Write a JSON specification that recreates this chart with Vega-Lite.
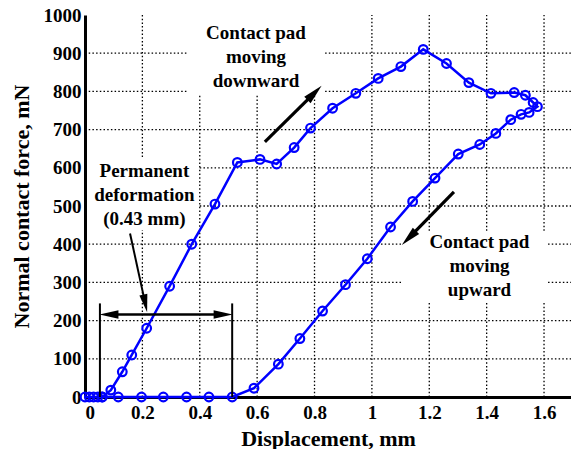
{
  "$schema": "https://vega.github.io/schema/vega-lite/v6.json",
  "width": 486,
  "height": 382,
  "autosize": {"type": "none"},
  "padding": {"left": 85, "top": 15, "right": 0, "bottom": 52},
  "background": "white",
  "config": {
    "view": {"stroke": null},
    "font": "Liberation Serif",
    "text": {"font": "Liberation Serif"}
  },
  "datasets": {
    "curve": [
      {"i": 1, "d": 0, "f": 0}, {"i": 2, "d": 0.015, "f": 0}, {"i": 3, "d": 0.03, "f": 0}, {"i": 4, "d": 0.045, "f": 0}, {"i": 5, "d": 0.06, "f": 0},
      {"i": 6, "d": 0.09, "f": 18}, {"i": 7, "d": 0.13, "f": 66}, {"i": 8, "d": 0.163, "f": 110}, {"i": 9, "d": 0.215, "f": 180},
      {"i": 10, "d": 0.295, "f": 290}, {"i": 11, "d": 0.372, "f": 400}, {"i": 12, "d": 0.453, "f": 505}, {"i": 13, "d": 0.531, "f": 614},
      {"i": 14, "d": 0.61, "f": 622}, {"i": 15, "d": 0.668, "f": 610}, {"i": 16, "d": 0.729, "f": 653}, {"i": 17, "d": 0.786, "f": 704},
      {"i": 18, "d": 0.863, "f": 756}, {"i": 19, "d": 0.944, "f": 795}, {"i": 20, "d": 1.022, "f": 834}, {"i": 21, "d": 1.101, "f": 865},
      {"i": 22, "d": 1.179, "f": 910}, {"i": 23, "d": 1.26, "f": 873}, {"i": 24, "d": 1.338, "f": 823}, {"i": 25, "d": 1.415, "f": 795},
      {"i": 26, "d": 1.496, "f": 797}, {"i": 27, "d": 1.535, "f": 790}, {"i": 28, "d": 1.562, "f": 771}, {"i": 29, "d": 1.577, "f": 760},
      {"i": 30, "d": 1.548, "f": 745}, {"i": 31, "d": 1.52, "f": 740}, {"i": 32, "d": 1.484, "f": 726}, {"i": 33, "d": 1.432, "f": 690},
      {"i": 34, "d": 1.376, "f": 661}, {"i": 35, "d": 1.301, "f": 636}, {"i": 36, "d": 1.22, "f": 573}, {"i": 37, "d": 1.142, "f": 512},
      {"i": 38, "d": 1.065, "f": 445}, {"i": 39, "d": 0.984, "f": 362}, {"i": 40, "d": 0.908, "f": 294}, {"i": 41, "d": 0.828, "f": 225},
      {"i": 42, "d": 0.749, "f": 153}, {"i": 43, "d": 0.674, "f": 86}, {"i": 44, "d": 0.589, "f": 23}, {"i": 45, "d": 0.513, "f": 0},
      {"i": 46, "d": 0.432, "f": 0}, {"i": 47, "d": 0.354, "f": 0}, {"i": 48, "d": 0.273, "f": 0}, {"i": 49, "d": 0.197, "f": 0},
      {"i": 50, "d": 0.116, "f": 0}, {"i": 51, "d": 0.06, "f": 0}
    ],
    "grid": [
      {"d": 0.2, "f": 0, "d2": 0.2, "f2": 437}, {"d": 0.2, "f": 628, "d2": 0.2, "f2": 1000},
      {"d": 0.4, "f": 0, "d2": 0.4, "f2": 790},
      {"d": 0.6, "f": 0, "d2": 0.6, "f2": 790},
      {"d": 0.8, "f": 0, "d2": 0.8, "f2": 790},
      {"d": 1.0, "f": 0, "d2": 1.0, "f2": 1000},
      {"d": 1.2, "f": 0, "d2": 1.2, "f2": 249}, {"d": 1.2, "f": 435, "d2": 1.2, "f2": 1000},
      {"d": 1.4, "f": 0, "d2": 1.4, "f2": 249}, {"d": 1.4, "f": 435, "d2": 1.4, "f2": 1000},
      {"d": 1.6, "f": 0, "d2": 1.6, "f2": 249}, {"d": 1.6, "f": 435, "d2": 1.6, "f2": 1000},
      {"d": 0, "f": 100, "d2": 1.694, "f2": 100},
      {"d": 0, "f": 200, "d2": 1.694, "f2": 200},
      {"d": 0, "f": 300, "d2": 1.108, "f2": 300}, {"d": 1.614, "f": 300, "d2": 1.694, "f2": 300},
      {"d": 0, "f": 400, "d2": 1.108, "f2": 400}, {"d": 1.614, "f": 400, "d2": 1.694, "f2": 400},
      {"d": 0.40, "f": 500, "d2": 1.694, "f2": 500},
      {"d": 0.40, "f": 600, "d2": 1.694, "f2": 600},
      {"d": 0, "f": 700, "d2": 1.694, "f2": 700},
      {"d": 0, "f": 800, "d2": 0.356, "f2": 800}, {"d": 0.837, "f": 800, "d2": 1.694, "f2": 800},
      {"d": 0, "f": 900, "d2": 0.356, "f2": 900}, {"d": 0.837, "f": 900, "d2": 1.694, "f2": 900}
    ],
    "rules": [
      {"d": 0.627, "f": 668, "d2": 0.80, "f2": 796, "kind": "big"},
      {"d": 1.286, "f": 537, "d2": 1.129, "f2": 416.5, "kind": "big"},
      {"d": 0.052, "f": 0, "d2": 0.052, "f2": 245, "kind": "thin"},
      {"d": 0.513, "f": 0, "d2": 0.513, "f2": 245, "kind": "thin"},
      {"d": 0.083, "f": 216, "d2": 0.482, "f2": 216, "kind": "mid"},
      {"d": 0.157, "f": 428, "d2": 0.21, "f2": 245, "kind": "thin"}
    ],
    "heads": [
      {"d": 0.80, "f": 796, "a": 45, "kind": "big"},
      {"d": 1.129, "f": 416.5, "a": 225, "kind": "big"},
      {"d": 0.0834, "f": 216, "a": 270, "kind": "mid"},
      {"d": 0.4816, "f": 216, "a": 90, "kind": "mid"},
      {"d": 0.21, "f": 245, "a": 168, "kind": "thin"}
    ],
    "labels": [
      {"d": 0.596, "f": 937, "t": "Contact pad\nmoving\ndownward"},
      {"d": 0.207, "f": 576, "t": "Permanent\ndeformation\n(0.43 mm)"},
      {"d": 1.375, "f": 390, "t": "Contact pad\nmoving\nupward"}
    ]
  },
  "encoding": {
    "x": {"field": "d", "type": "quantitative", "scale": {"domain": [0, 1.694], "nice": false, "zero": false},
      "axis": {"orient": "bottom", "values": [0, 0.2, 0.4, 0.6, 0.8, 1, 1.2, 1.4, 1.6], "format": ".1~f",
        "title": "Displacement, mm", "grid": false,
        "domainColor": "black", "domainWidth": 3, "ticks": false, "labelPadding": 6,
        "labelFont": "Liberation Serif", "labelFontWeight": "bold", "labelFontSize": 19, "labelColor": "black",
        "titleFont": "Liberation Serif", "titleFontWeight": "bold", "titleFontSize": 22, "titleColor": "black", "titlePadding": 6}},
    "y": {"field": "f", "type": "quantitative", "scale": {"domain": [0, 1000], "nice": false},
      "axis": {"orient": "left", "values": [0, 100, 200, 300, 400, 500, 600, 700, 800, 900, 1000], "format": "d",
        "title": "Normal contact force, mN", "grid": false,
        "domainColor": "black", "domainWidth": 3, "ticks": false, "labelPadding": 4,
        "labelFont": "Liberation Serif", "labelFontWeight": "bold", "labelFontSize": 19, "labelColor": "black",
        "titleFont": "Liberation Serif", "titleFontWeight": "bold", "titleFontSize": 22, "titleColor": "black", "titlePadding": 10}}
  },
  "layer": [
    {
      "data": {"name": "grid"},
      "mark": {"type": "rule", "color": "black", "strokeWidth": 1.3, "strokeDash": [1.5, 2.2]},
      "encoding": {
        "x2": {"field": "d2"},
        "y2": {"field": "f2"}
      }
    },
    {
      "data": {"values": [{}]},
      "mark": {"type": "rule", "color": "black", "strokeWidth": 3},
      "encoding": {
        "x": {"datum": 0},
        "x2": {"datum": 1.694},
        "y": {"datum": 1000}
      }
    },
    {
      "data": {"name": "curve"},
      "mark": {"type": "line", "color": "#0000ff", "strokeWidth": 2.5,
        "point": {"filled": false, "stroke": "#0000ff", "strokeWidth": 2.2, "size": 75, "shape": "circle"}},
      "encoding": {
        "order": {"field": "i", "type": "quantitative"}
      }
    },
    {
      "data": {"name": "rules"},
      "mark": {"type": "rule", "color": "black"},
      "encoding": {
        "x2": {"field": "d2"},
        "y2": {"field": "f2"},
        "strokeWidth": {"field": "kind", "type": "nominal", "scale": {"domain": ["big", "mid", "thin"], "range": [3.2, 2, 1.5]}, "legend": null}
      }
    },
    {
      "data": {"name": "heads"},
      "mark": {"type": "point", "filled": true, "color": "black", "opacity": 1, "shape": "M0,-1L0.45,1L-0.45,1Z"},
      "encoding": {
        "angle": {"field": "a", "type": "quantitative", "scale": null},
        "size": {"field": "kind", "type": "nominal", "scale": {"domain": ["big", "mid", "thin"], "range": [400, 324, 196]}, "legend": null}
      }
    },
    {
      "data": {"name": "labels"},
      "mark": {"type": "text", "align": "center", "baseline": "alphabetic", "lineBreak": "\n", "lineHeight": 24,
        "font": "Liberation Serif", "fontWeight": "bold", "fontSize": 19, "color": "black"},
      "encoding": {
        "text": {"field": "t"}
      }
    }
  ]
}
